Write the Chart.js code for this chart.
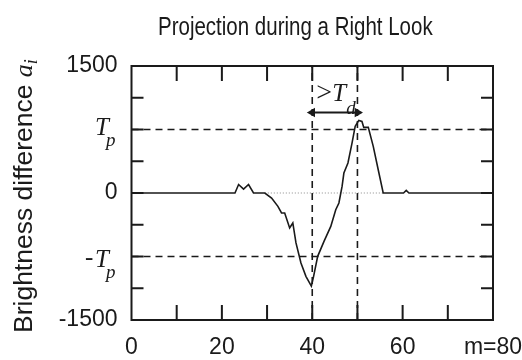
<!DOCTYPE html>
<html>
<head>
<meta charset="utf-8">
<script src="https://cdn.jsdelivr.net/npm/chart.js@4/dist/chart.umd.min.js"></script>
<style>
  html, body { margin: 0; padding: 0; background: #fff; }
  #wrap { width: 522px; height: 360px; }
</style>
</head>
<body>
<div id="wrap"><canvas id="chart" width="522" height="360"></canvas></div>
<script>
// projection values a_i over m
const mVals = [0, 22.9, 23.7, 24.8, 25.9, 27.0, 29.5, 31.0, 32.4, 33.2, 33.9, 35.0, 35.7, 36.4, 37.5, 38.6, 39.8,
  40.3, 41.2, 42.6, 44.1, 45.2, 45.9, 46.6, 47.0, 47.9, 48.8, 49.5, 50.3, 51.0, 51.4, 52.4, 53.5, 54.6, 55.7,
  60.2, 60.8, 61.4, 80];
const aVals = [0, 0, 100, 45, 100, 0, 0, -60, -158, -236, -236, -413, -354, -590, -827, -984, -1100,
  -984, -748, -571, -394, -197, -118, 78, 236, 354, 590, 787, 857, 845, 775, 775, 551, 275, 0,
  0, 30, 0, 0];
const Tp = 750;
const TdStart = 40;
const TdEnd = 50;
const TdArrowY = 950;
const zeroDotted = [29.5, 55.7];
const xTickLabels = { 0: "0", 20: "20", 40: "40", 60: "60", 80: "m=80" };
const yTickLabels = { 1500: "1500", 0: "0", "-1500": "-1500" };

const ink = "#1a1a1a";
const sans = "'Liberation Sans', Arial, Helvetica, sans-serif";
const serif = "'Liberation Serif', 'Times New Roman', serif";

const annotations = {
  id: "annotations",
  afterDraw(chart) {
    const { ctx, chartArea: a, scales: { x, y } } = chart;
    ctx.save();

    // frame
    ctx.strokeStyle = ink;
    ctx.lineWidth = 2;
    ctx.strokeRect(a.left, a.top, a.right - a.left, a.bottom - a.top);

    // inward tick marks
    ctx.beginPath();
    x.ticks.forEach(t => {
      if (t.value <= x.min || t.value >= x.max) return;
      const px = x.getPixelForValue(t.value);
      ctx.moveTo(px, a.bottom); ctx.lineTo(px, a.bottom - 15);
      ctx.moveTo(px, a.top); ctx.lineTo(px, a.top + 15);
    });
    y.ticks.forEach(t => {
      if (t.value <= y.min || t.value >= y.max) return;
      const py = y.getPixelForValue(t.value);
      ctx.moveTo(a.left, py); ctx.lineTo(a.left + 12, py);
      ctx.moveTo(a.right, py); ctx.lineTo(a.right - 12, py);
    });
    ctx.stroke();

    // T_p labels on the y axis
    ctx.fillStyle = ink;
    ctx.textBaseline = "alphabetic";
    ctx.textAlign = "left";
    [Tp, -Tp].forEach(v => {
      const py = y.getPixelForValue(v);
      const base = v < 0 ? py + 10 : py + 5;
      ctx.font = "italic 25px " + serif;
      if (v < 0) ctx.fillText("-", 85, base - 2);
      ctx.fillText("T", 95, base);
      ctx.font = "italic 19px " + serif;
      ctx.fillText("p", 106, base + 11);
    });

    // > T_d label between the dashed verticals
    const xs = x.getPixelForValue(TdStart);
    const ya = y.getPixelForValue(TdArrowY);
    ctx.font = "28px " + serif;
    ctx.fillText(">", xs + 4, ya - 12);
    ctx.font = "italic 25px " + serif;
    ctx.fillText("T", xs + 20, ya - 12);
    ctx.font = "italic 19px " + serif;
    ctx.fillText("d", xs + 34, ya + 1);

    // title (the figure is slightly stretched vertically)
    ctx.save();
    ctx.translate(158, 35);
    ctx.scale(1, 1.28);
    ctx.font = "20.5px " + sans;
    ctx.fillText("Projection during a Right Look", 0, 0);
    ctx.restore();

    // y axis title, rotated
    ctx.translate(32, 333);
    ctx.rotate(-Math.PI / 2);
    ctx.font = "26.5px " + sans;
    const label = "Brightness difference ";
    ctx.fillText(label, 0, 0);
    const lw = ctx.measureText(label).width;
    ctx.font = "italic 26px " + serif;
    ctx.fillText("a", lw, 0);
    const aw = ctx.measureText("a").width;
    ctx.font = "italic 18px " + serif;
    ctx.fillText("i", lw + aw, 5);

    ctx.restore();
  }
};

const dashed = { borderColor: ink, borderWidth: 1.6, borderDash: [7, 5], pointRadius: 0, showLine: true, fill: false };

new Chart(document.getElementById("chart"), {
  type: "scatter",
  data: {
    datasets: [
      {
        label: "a_i",
        data: mVals.map((m, i) => ({ x: m, y: aVals[i] })),
        showLine: true,
        borderColor: ink,
        borderWidth: 1.6,
        pointRadius: 0,
        tension: 0
      },
      {
        label: "zero",
        data: zeroDotted.map(m => ({ x: m, y: 0 })),
        showLine: true,
        borderColor: "#8a8a8a",
        borderWidth: 1.2,
        borderDash: [1, 2],
        pointRadius: 0
      },
      Object.assign({ label: "Tp", data: [{ x: 0, y: Tp }, { x: 80, y: Tp }] }, dashed),
      Object.assign({ label: "-Tp", data: [{ x: 0, y: -Tp }, { x: 80, y: -Tp }] }, dashed),
      Object.assign({ label: "start", data: [{ x: TdStart, y: -1500 }, { x: TdStart, y: 1500 }] }, dashed),
      Object.assign({ label: "end", data: [{ x: TdEnd, y: -1500 }, { x: TdEnd, y: 1500 }] }, dashed),
      {
        label: "Td",
        data: [{ x: TdStart, y: TdArrowY }, { x: TdEnd, y: TdArrowY }],
        showLine: true,
        borderColor: ink,
        borderWidth: 2,
        pointStyle: "triangle",
        pointRadius: 3.5,
        pointBackgroundColor: ink,
        pointBorderColor: ink,
        pointRotation: ctx => (ctx.dataIndex === 0 ? -90 : 90)
      }
    ]
  },
  options: {
    responsive: false,
    animation: false,
    layout: { padding: { top: 66, right: 29, left: 0, bottom: 0 } },
    plugins: { legend: { display: false }, tooltip: { enabled: false }, title: { display: false } },
    scales: {
      x: {
        type: "linear",
        min: 0,
        max: 80,
        afterFit: s => { s.height = 40; s.paddingLeft = 0; s.paddingRight = 0; },
        grid: { display: false, drawTicks: false },
        border: { display: false },
        ticks: {
          stepSize: 10,
          autoSkip: false,
          maxRotation: 0,
          padding: 14,
          color: ink,
          font: { family: sans, size: 23 },
          callback: v => xTickLabels[v] || ""
        }
      },
      y: {
        min: -1500,
        max: 1500,
        afterFit: s => { s.width = 131.5; },
        grid: { display: false, drawTicks: false },
        border: { display: false },
        ticks: {
          stepSize: 375,
          autoSkip: false,
          padding: 14,
          color: ink,
          font: { family: sans, size: 23 },
          callback: v => yTickLabels[v] || ""
        }
      }
    }
  },
  plugins: [annotations]
});
</script>
</body>
</html>
